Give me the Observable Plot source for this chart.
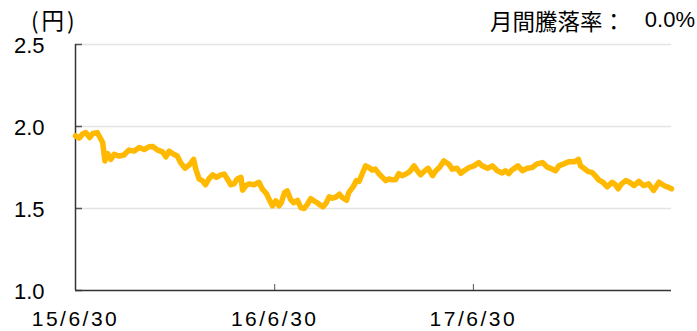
<!DOCTYPE html>
<html>
<head>
<meta charset="utf-8">
<script src="https://cdn.jsdelivr.net/npm/d3@7"></script>
<script src="https://cdn.jsdelivr.net/npm/@observablehq/plot@0.6"></script>
<style>
  html, body { margin: 0; padding: 0; background: #fff; }
  #wrap { position: relative; width: 697px; height: 331px; overflow: hidden; }
  .hdr { position: absolute; font-family: "Noto Sans CJK JP", "Liberation Sans", sans-serif; font-size: 22.5px; line-height: 22px; color: #000; white-space: pre; }
  #unit { left: 31px; top: 8px; letter-spacing: 3px; }
  #rateLabel { left: 490px; top: 9px; }
  #rateValue { right: 2px; top: 9px; font-family: "Liberation Sans", sans-serif; font-size: 22px; }
  svg g[aria-label="x-axis tick label"] text { letter-spacing: 2.5px; }
</style>
</head>
<body>
<div id="wrap">
  <div id="chart"></div>
  <div class="hdr" id="unit">(円)</div>
  <div class="hdr" id="rateLabel">月間騰落率：</div>
  <div class="hdr" id="rateValue">0.0%</div>
</div>
<script>
const dates = [
  "2015-06-30","2015-07-07","2015-07-13","2015-07-19","2015-07-26","2015-08-01","2015-08-09","2015-08-14","2015-08-19","2015-08-23",
  "2015-08-28","2015-09-03","2015-09-09","2015-09-18","2015-09-27","2015-10-06","2015-10-16","2015-10-25","2015-11-03","2015-11-12",
  "2015-11-19","2015-11-28","2015-12-07","2015-12-13","2015-12-19","2015-12-25","2016-01-03","2016-01-09","2016-01-17","2016-01-25",
  "2016-02-02","2016-02-06","2016-02-12","2016-02-18","2016-02-24","2016-03-01","2016-03-08","2016-03-15","2016-03-23","2016-03-29",
  "2016-04-04","2016-04-10","2016-04-16","2016-04-22","2016-04-29","2016-05-02","2016-05-08","2016-05-14","2016-05-23","2016-06-01",
  "2016-06-07","2016-06-15","2016-06-21","2016-06-26","2016-07-02","2016-07-08","2016-07-12","2016-07-18","2016-07-23","2016-07-29",
  "2016-08-04","2016-08-11","2016-08-17","2016-08-23","2016-08-29","2016-09-04","2016-09-10","2016-09-16","2016-09-22","2016-09-27",
  "2016-10-02","2016-10-08","2016-10-14","2016-10-21","2016-10-27","2016-11-01","2016-11-09","2016-11-13","2016-11-21","2016-11-27",
  "2016-12-02","2016-12-08","2016-12-14","2016-12-20","2016-12-26","2017-01-01","2017-01-08","2017-01-14","2017-01-20","2017-01-26",
  "2017-02-01","2017-02-07","2017-02-13","2017-02-19","2017-02-26","2017-03-05","2017-03-13","2017-03-19","2017-03-25","2017-03-31",
  "2017-04-08","2017-04-16","2017-04-22","2017-04-29","2017-05-07","2017-05-16","2017-05-22","2017-05-31","2017-06-07","2017-06-13",
  "2017-06-22","2017-07-01","2017-07-10","2017-07-16","2017-07-26","2017-08-04","2017-08-13","2017-08-22","2017-08-28","2017-09-03",
  "2017-09-09","2017-09-20","2017-09-28","2017-10-07","2017-10-16","2017-10-25","2017-11-04","2017-11-13","2017-11-22","2017-11-28",
  "2017-12-04","2017-12-13","2017-12-22","2018-01-02","2018-01-09","2018-01-13","2018-01-19","2018-01-27","2018-02-03","2018-02-09",
  "2018-02-15","2018-02-23","2018-03-03","2018-03-12","2018-03-18","2018-03-23","2018-03-29","2018-04-06","2018-04-13","2018-04-21",
  "2018-04-30","2018-05-09","2018-05-18","2018-05-27","2018-06-06","2018-06-15","2018-06-21","2018-06-29"
];
const values = [
  1.943,1.929,1.954,1.963,1.933,1.957,1.963,1.933,1.902,1.790,
  1.835,1.800,1.830,1.820,1.826,1.856,1.850,1.872,1.860,1.876,
  1.878,1.856,1.845,1.815,1.850,1.835,1.820,1.780,1.746,1.765,
  1.800,1.740,1.680,1.670,1.645,1.680,1.705,1.690,1.705,1.710,
  1.680,1.645,1.650,1.680,1.690,1.612,1.640,1.650,1.645,1.660,
  1.620,1.590,1.547,1.516,1.547,1.516,1.535,1.597,1.607,1.556,
  1.535,1.550,1.506,1.500,1.525,1.560,1.547,1.535,1.520,1.510,
  1.530,1.571,1.563,1.571,1.587,1.567,1.550,1.597,1.632,1.670,
  1.665,1.713,1.760,1.750,1.735,1.740,1.710,1.690,1.670,1.680,
  1.675,1.675,1.713,1.700,1.710,1.725,1.760,1.730,1.705,1.725,
  1.745,1.700,1.730,1.752,1.790,1.770,1.740,1.745,1.715,1.730,
  1.750,1.760,1.780,1.760,1.745,1.760,1.730,1.717,1.730,1.713,
  1.735,1.760,1.730,1.745,1.750,1.772,1.780,1.752,1.740,1.730,
  1.760,1.772,1.785,1.785,1.800,1.760,1.745,1.725,1.720,1.700,
  1.675,1.660,1.632,1.660,1.645,1.620,1.650,1.670,1.660,1.640,
  1.665,1.640,1.650,1.610,1.660,1.640,1.632,1.620
];
const xStart = "2015-06-30";
const xEnd = "2018-06-29";
const xTicks = ["2015-06-30", "2016-06-30", "2017-06-30"];
const yTicks = [1.0, 1.5, 2.0, 2.5];

const data = dates.map((d, i) => ({date: new Date(d), value: values[i]}));
const fmtX = d => `${String(d.getUTCFullYear()).slice(2)}/${d.getUTCMonth() + 1}/${d.getUTCDate()}`;

const chart = Plot.plot({
  width: 697,
  height: 331,
  marginLeft: 75,
  marginRight: 26,
  marginTop: 44,
  marginBottom: 41,
  style: {fontFamily: "'Liberation Sans', 'Noto Sans CJK JP', sans-serif", fontSize: "21px", color: "#000", background: "#fff", overflow: "visible"},
  x: {type: "utc", domain: [new Date(xStart), new Date(xEnd)]},
  y: {domain: [1, 2.5]},
  marks: [
    Plot.gridY(yTicks.slice(1), {stroke: "#e4e4e4", strokeOpacity: 1, strokeWidth: 1.5}),
    Plot.axisY(yTicks, {tickSize: 0, tickPadding: 31, tickFormat: d => d.toFixed(1), fontSize: 22, label: null, dy: 1}),
    Plot.axisY(yTicks, {tickSize: -7, text: null, label: null, stroke: "#555", strokeWidth: 1.5}),
    Plot.axisX(xTicks.map(d => new Date(d)), {tickSize: 0, tickPadding: 21, tickFormat: fmtX, fontSize: 21, label: null}),
    Plot.axisX(xTicks.map(d => new Date(d)), {tickSize: -6, text: null, label: null, stroke: "#555"}),
    Plot.ruleX([new Date(xStart)], {stroke: "#333", strokeWidth: 1.5}),
    Plot.ruleY([1], {stroke: "#333", strokeWidth: 1.5}),
    Plot.line(data, {x: "date", y: "value", stroke: "#FFB900", strokeWidth: 5.5, strokeLinejoin: "round", strokeLinecap: "round"})
  ]
});
document.getElementById("chart").appendChild(chart);
</script>
</body>
</html>
